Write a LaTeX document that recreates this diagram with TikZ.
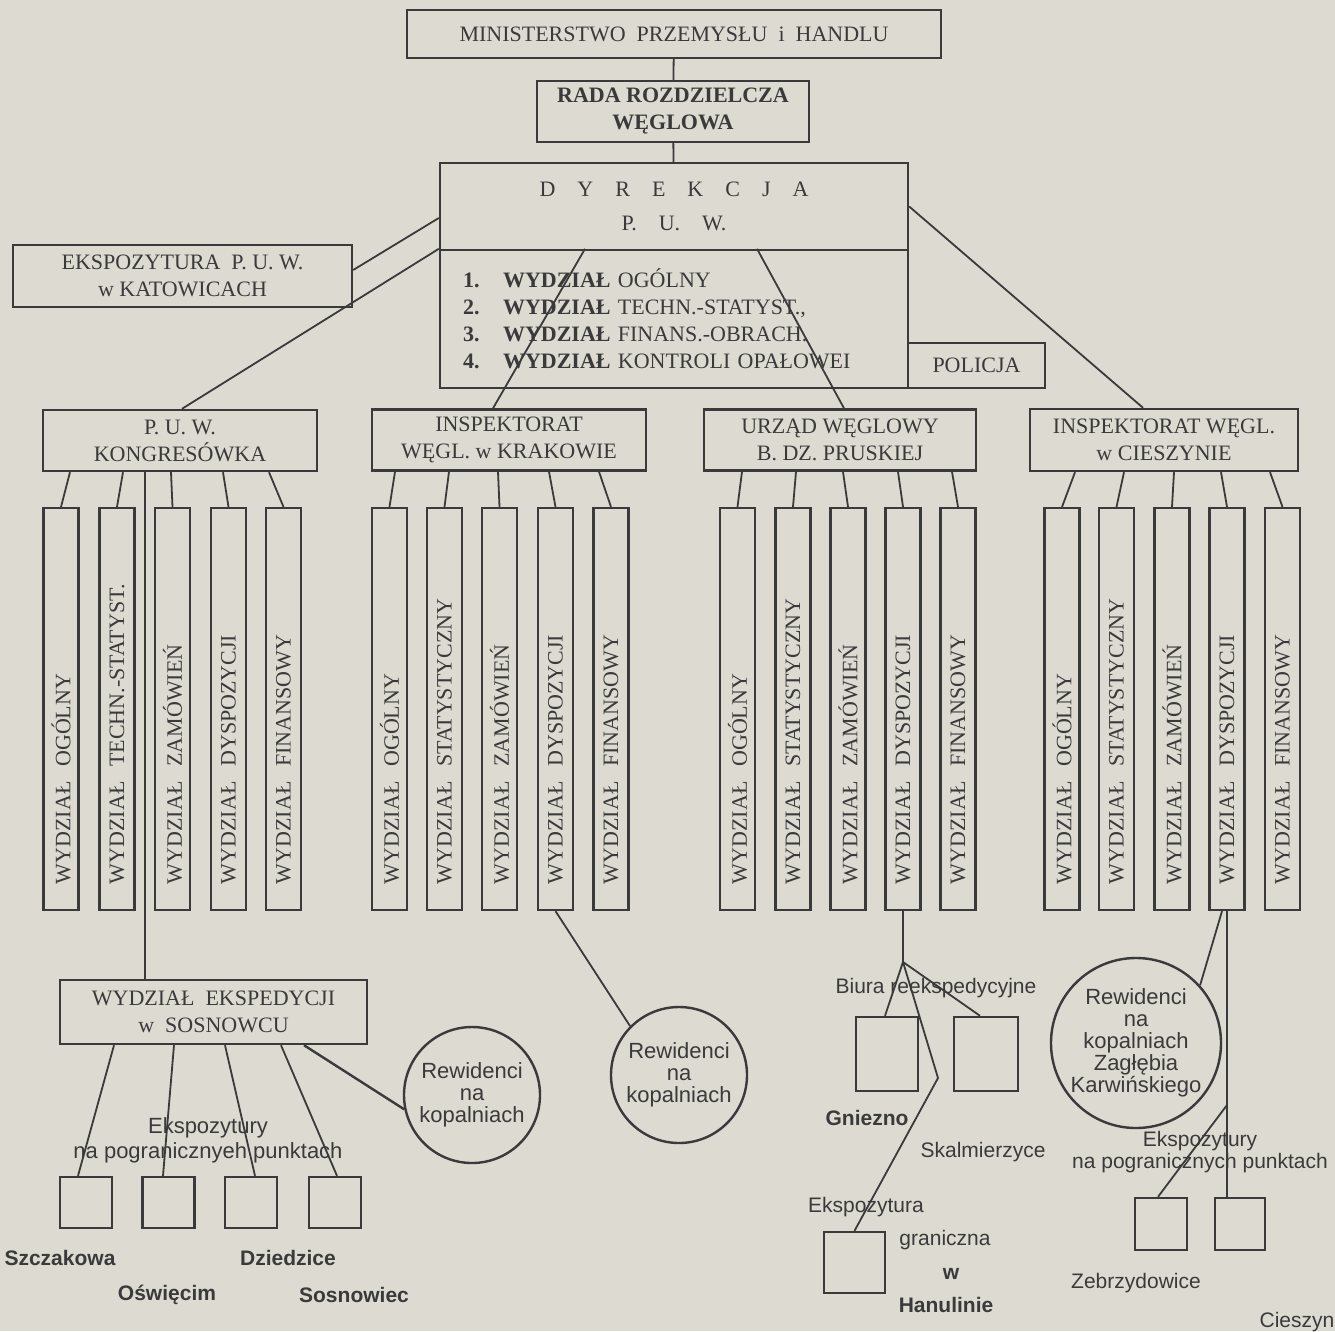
\documentclass[tikz,border=0pt]{standalone}
\usepackage{fontspec}
\setmainfont{Liberation Serif}
\setsansfont{Liberation Sans}

\definecolor{paper}{RGB}{221,218,209}
\definecolor{ink}{RGB}{58,58,58}

\newcommand{\boxfont}{\fontsize{22}{27}\selectfont}
\newcommand{\lblfont}{\sffamily\fontsize{21}{22}\selectfont}

\tikzset{
  box/.style={draw=ink, line width=2.4pt, inner sep=0pt, align=center, text=ink, font=\boxfont},
  dept/.style={draw=ink, line width=2.2pt, rotate=90, minimum width=402pt, minimum height=35pt,
    inner xsep=26pt, inner ysep=0pt, text width=350pt, align=left, text=ink, font=\boxfont},
  link/.style={draw=ink, line width=1.8pt},
  office/.style={draw=ink, line width=2.4pt, inner sep=0pt},
  rew/.style={circle, draw=ink, line width=2.4pt, inner sep=0pt, align=center, text=ink,
    font=\sffamily\fontsize{22}{22}\selectfont},
  lbl/.style={inner sep=0pt, align=center, text=ink, font=\lblfont},
}

\begin{document}
\begin{tikzpicture}[x=1pt,y=-1pt]

	\fill[paper] (0,0) rectangle (1335,1331);
	\useasboundingbox (0,0) rectangle (1335,1331);

	% Top of the chart
	\node[box, minimum width=534pt, minimum height=48pt] (min) at (674,34) {MINISTERSTWO\ \ PRZEMYSŁU\ \ i\ \ HANDLU};
	\node[box, minimum width=272pt, minimum height=61pt, font=\boxfont\bfseries] (rada) at (673,111.5) {RADA ROZDZIELCZA\\WĘGLOWA};
	\node[box, minimum width=468pt, minimum height=87pt] (dyrtop) at (674,206.5) {D\quad Y\quad R\quad E\quad K\quad C\quad J\quad A\\[7pt]P.\quad U.\quad W.};
	\node[box, minimum width=468pt, minimum height=138pt, inner xsep=23pt, text width=422pt, align=left] (dyrlist) at (674,319)
		{\textbf{\makebox[40pt][l]{1.}WYDZIAŁ} OGÓLNY\\
		 \textbf{\makebox[40pt][l]{2.}WYDZIAŁ} TECHN.-STATYST.,\\
		 \textbf{\makebox[40pt][l]{3.}WYDZIAŁ} FINANS.-OBRACH.\\
		 \textbf{\makebox[40pt][l]{4.}WYDZIAŁ} KONTROLI OPAŁOWEI};
	\node[box, minimum width=137pt, minimum height=45pt] (polic) at (976.5,365.5) {POLICJA};
	\node[box, minimum width=339pt, minimum height=62pt] (kat) at (182.5,276) {EKSPOZYTURA\ \ P. U. W.\\w KATOWICACH};

	\draw[link] (min) -- (rada);
	\draw[link] (rada) -- (dyrtop);
	\draw[link] ([yshift=6pt]kat.east) -- ([yshift=-11.5pt]dyrtop.west);

	% Second level
	\node[box, minimum width=274pt, minimum height=61pt] (kong) at (180,440.5) {P. U. W.\\KONGRESÓWKA};
	\node[box, minimum width=274pt, minimum height=61pt] (krak) at (509,440) {INSPEKTORAT\\WĘGL.\ w KRAKOWIE};
	\node[box, minimum width=272pt, minimum height=61pt] (urz) at (840,440) {URZĄD WĘGLOWY\\B. DZ. PRUSKIEJ};
	\node[box, minimum width=268pt, minimum height=62pt] (cie) at (1164,440) {INSPEKTORAT WĘGL.\\w CIESZYNIE};

	\draw[link] (dyrlist.north west) -- ([xshift=2pt]kong.north);
	\draw[link] ([xshift=-89pt]dyrlist.north) -- ([xshift=-16pt]krak.north);
	\draw[link] ([xshift=83pt]dyrlist.north) -- ([xshift=4pt]urz.north);
	\draw[link] (dyrtop.east) -- ([xshift=-21pt]cie.north);

	% Departments
	\foreach \i/\x/\dx/\txt in {1/61/-110/WYDZIAŁ\ \ OGÓLNY, 2/117/-57/WYDZIAŁ\ \ TECHN.-STATYST.,
		3/172.5/-9/WYDZIAŁ\ \ ZAMÓWIEŃ, 4/228.5/43/WYDZIAŁ\ \ DYSPOZYCJI, 5/283.5/89/WYDZIAŁ\ \ FINANSOWY}{
		\node[dept] (k\i) at (\x,709) {\txt};
		\draw[link] ([xshift=\dx pt]kong.south) -- (k\i.east);
	}
	\foreach \i/\x/\dx/\txt in {1/389.5/-114/WYDZIAŁ\ \ OGÓLNY, 2/444.5/-60/WYDZIAŁ\ \ STATYSTYCZNY,
		3/499.5/-11/WYDZIAŁ\ \ ZAMÓWIEŃ, 4/555.5/40/WYDZIAŁ\ \ DYSPOZYCJI, 5/611/90/WYDZIAŁ\ \ FINANSOWY}{
		\node[dept] (i\i) at (\x,709) {\txt};
		\draw[link] ([xshift=\dx pt]krak.south) -- (i\i.east);
	}
	\foreach \i/\x/\dx/\txt in {1/737.5/-98/WYDZIAŁ\ \ OGÓLNY, 2/793/-44/WYDZIAŁ\ \ STATYSTYCZNY,
		3/848/3/WYDZIAŁ\ \ ZAMÓWIEŃ, 4/903/58/WYDZIAŁ\ \ DYSPOZYCJI, 5/958/112/WYDZIAŁ\ \ FINANSOWY}{
		\node[dept] (u\i) at (\x,709) {\txt};
		\draw[link] ([xshift=\dx pt]urz.south) -- (u\i.east);
	}
	\foreach \i/\x/\dx/\txt in {1/1062/-89/WYDZIAŁ\ \ OGÓLNY, 2/1116.5/-40/WYDZIAŁ\ \ STATYSTYCZNY,
		3/1172/10/WYDZIAŁ\ \ ZAMÓWIEŃ, 4/1227/57/WYDZIAŁ\ \ DYSPOZYCJI, 5/1282.5/106/WYDZIAŁ\ \ FINANSOWY}{
		\node[dept] (c\i) at (\x,709) {\txt};
		\draw[link] ([xshift=\dx pt]cie.south) -- (c\i.east);
	}

	% Sosnowiec branch
	\node[box, minimum width=307pt, minimum height=64pt] (eksp) at (213.5,1012) {WYDZIAŁ\ \ EKSPEDYCJI\\w\ \ SOSNOWCU};
	\draw[link] ([xshift=-35pt]kong.south) -- ([xshift=-68.5pt]eksp.north);

	\node[rew, minimum size=136pt] (rew1) at (472,1095) {Rewidenci\\na\\kopalniach};
	\draw[link, line width=2.4pt] ([xshift=90.5pt]eksp.south) -- (rew1.192);

	\node[office, minimum width=52pt, minimum height=51pt] (szcz) at (86,1202.5) {};
	\node[office, minimum width=52pt, minimum height=51pt] (osw) at (168.5,1202.5) {};
	\node[office, minimum width=52pt, minimum height=51pt] (dzie) at (251,1202.5) {};
	\node[office, minimum width=52pt, minimum height=51pt] (sosn) at (335,1202.5) {};

	\draw[link] ([xshift=-99.5pt]eksp.south) -- ([xshift=-8pt]szcz.north);
	\draw[link] ([xshift=-39.5pt]eksp.south) -- ([xshift=-5.5pt]osw.north);
	\draw[link] ([xshift=11.5pt]eksp.south) -- ([xshift=4pt]dzie.north);
	\draw[link] ([xshift=67.5pt]eksp.south) -- ([xshift=2pt]sosn.north);

	\node[lbl, font=\sffamily\fontsize{22}{25}\selectfont] (ekspl) at (208,1140) {Ekspozytury\\na\ pogranicznyeh\ punktach};
	\node[lbl, font=\lblfont\bfseries] (szczl) at (60,1258) {Szczakowa};
	\node[lbl, font=\lblfont\bfseries] (oswl) at (167,1295) {Oświęcim};
	\node[lbl, font=\lblfont\bfseries] (dziel) at (288,1258) {Dziedzice};
	\node[lbl, font=\lblfont\bfseries] (sosnl) at (354,1295) {Sosnowiec};

	% Krakow branch
	\node[rew, minimum size=136pt] (rew2) at (679,1075) {Rewidenci\\na\\kopalniach};
	\draw[link] (i4.west) -- (rew2.135);

	% Prussian branch
	\coordinate (fork) at (903,962);
	\coordinate (bend) at (938,1078);
	\node[office, minimum width=62pt, minimum height=74pt] (gni) at (887,1054) {};
	\node[office, minimum width=64pt, minimum height=74pt] (ska) at (986,1054) {};
	\node[office, minimum width=61pt, minimum height=61pt] (han) at (854.5,1262.5) {};

	\draw[link] (u4.west) -- (fork);
	\draw[link] (fork) -- ([xshift=-2pt]gni.north);
	\draw[link] (fork) -- ([xshift=-6pt]ska.north);
	\draw[link] (fork) -- (bend) -- (han.north);

	\node[lbl] (biural) at (936,988) {Biura reekspedycyjne};
	\node[lbl, font=\lblfont\bfseries] (gnil) at (867,1118) {Gniezno};
	\node[lbl] (skal) at (983,1152) {Skalmierzyce};
	\node[lbl] (hanl1) at (866,1207) {Ekspozytura};
	\node[lbl] (hanl2) at (945,1240) {graniczna};
	\node[lbl, font=\lblfont\bfseries] (hanl3) at (951,1274) {w};
	\node[lbl, font=\lblfont\bfseries] (hanl4) at (946,1305) {Hanulinie};

	% Cieszyn branch
	\node[rew, minimum size=160pt] (rew3) at (1136,1043) {Rewidenci\\na\\kopalniach\\Zagłębia\\Karwińskiego};
	\node[office, minimum width=52pt, minimum height=52pt] (zeb) at (1161,1224) {};
	\node[office, minimum width=50pt, minimum height=52pt] (ciesz) at (1240,1224) {};
	\coordinate (ebranch) at (1227,1105);

	\draw[link] ([xshift=-5pt]c4.west) -- (rew3.42);
	\draw[link] (c4.west) -- (c4.west |- ciesz.north);
	\draw[link] (ebranch) -- ([xshift=-3pt]zeb.north);

	\node[lbl] (eksprl) at (1200,1152) {Ekspozytury\\na pogranicznych punktach};
	\node[lbl] (zebl) at (1136,1283) {Zebrzydowice};
	\node[lbl] (cieszl) at (1297,1322) {Cieszyn};

\end{tikzpicture}
\end{document}
